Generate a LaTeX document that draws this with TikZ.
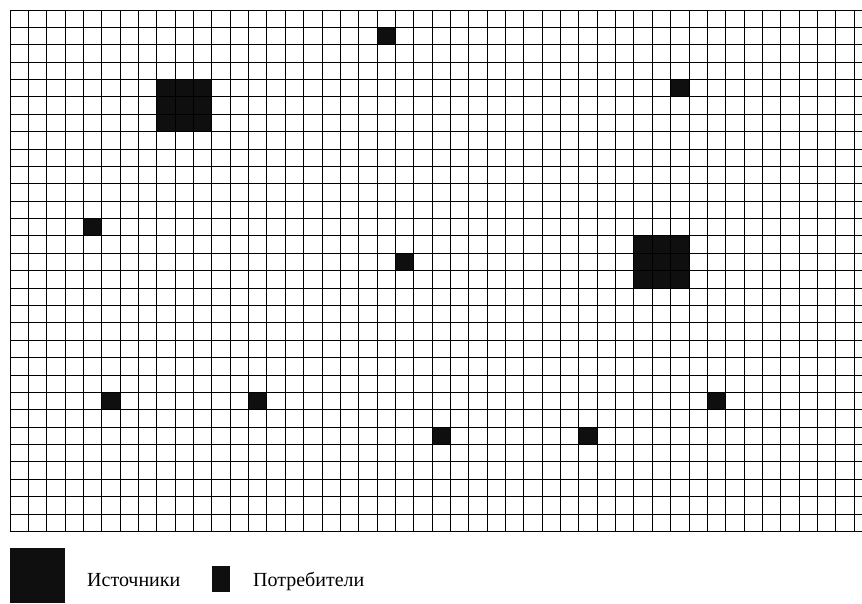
\documentclass[tikz,border=0pt]{standalone}
\usepackage{fontspec}
\setmainfont{Liberation Serif}
\definecolor{cellblack}{HTML}{0F0F0F}
\begin{document}
\begin{tikzpicture}[x=1pt,y=-1pt,
  gridline/.style={line width=0.9pt, black},
  filled/.style={fill=cellblack},
  legendtext/.style={font=\fontsize{20}{23}\selectfont, anchor=base west, inner sep=0pt}]
\def\dx{18.35}
\def\dy{17.38}
\useasboundingbox[fill=white] (0,0) rectangle (862,603);
% occupied cells
\newcommand{\cellfill}[2]{\fill[filled] ({10+#1*\dx},{10+#2*\dy}) rectangle ++(\dx,\dy);}
\newcommand{\bigfill}[2]{\fill[filled] ({10+#1*\dx},{10+#2*\dy}) rectangle ++({3*\dx},{3*\dy});}
\bigfill{8}{4}
\bigfill{34}{13}
\cellfill{20}{1}
\cellfill{36}{4}
\cellfill{4}{12}
\cellfill{21}{14}
\cellfill{5}{22}
\cellfill{13}{22}
\cellfill{38}{22}
\cellfill{23}{24}
\cellfill{31}{24}
% grid
\begin{scope}
\clip (0,0) rectangle (862,603);
\foreach \k in {0,...,47} {
  \draw[gridline] ({10+\k*\dx},10) -- ({10+\k*\dx},{10+30*\dy});
}
\foreach \r in {0,...,30} {
  \draw[gridline] (10,{10+\r*\dy}) -- (870,{10+\r*\dy});
}
\end{scope}
% legend
\fill[filled] (10,548) rectangle (65,603);
\node[legendtext] (src) at (87,586.5) {Источники};
\fill[filled] (212,566) rectangle (230,592);
\node[legendtext] (cons) at (253,586.5) {Потребители};
\end{tikzpicture}
\end{document}
